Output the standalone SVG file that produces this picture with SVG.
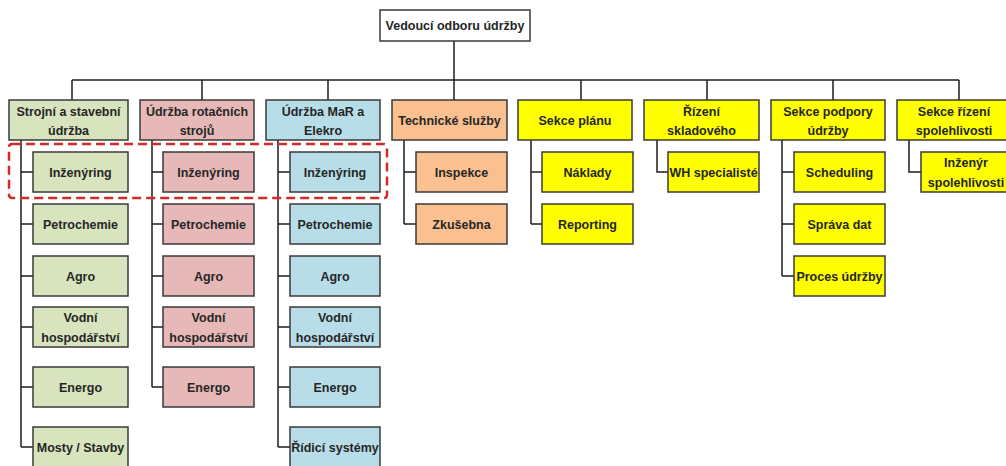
<svg xmlns="http://www.w3.org/2000/svg" width="1006" height="466" viewBox="0 0 1006 466">
  <style>
    .box { stroke: #3a3a3a; stroke-width: 1.5; }
    .white { fill: #ffffff; }
    .green { fill: #d7e4bd; }
    .pink { fill: #e6b9b8; }
    .blue { fill: #b7dee8; }
    .orange { fill: #fac090; }
    .yellow { fill: #ffff00; }
    text { font-family: "Liberation Sans", Arial, sans-serif; font-weight: bold; font-size: 12.5px; fill: #262626; text-anchor: middle; }
    .wire { stroke: #1e1e1e; stroke-width: 1.5; fill: none; }
    .focus { fill: none; stroke: #d42a2a; stroke-width: 2.5; stroke-dasharray: 9 5; }
  </style>
  <rect width="1006" height="466" fill="#ffffff"/>

  <!-- connectors -->
  <g id="connectors" class="wire">
    <!-- head to bus -->
    <path d="M454 41V80"/>
    <path d="M72 80H959"/>
    <path d="M72 80V100M202 80V100M328 80V100M454 80V100M581 80V100M707 80V100M833 80V100M959 80V100"/>
    <!-- column 1 -->
    <path d="M21 140V447M21 172H33M21 224H33M21 276H33M21 327H33M21 387H33M21 447H33"/>
    <!-- column 2 -->
    <path d="M152 140V387M152 172H163M152 224H163M152 276H163M152 327H163M152 387H163"/>
    <!-- column 3 -->
    <path d="M278 140V447M278 172H290M278 224H290M278 276H290M278 327H290M278 387H290M278 447H290"/>
    <!-- column 4 -->
    <path d="M404 140V224M404 172H416M404 224H416"/>
    <!-- column 5 -->
    <path d="M531 140V224M531 172H542M531 224H542"/>
    <!-- column 6 -->
    <path d="M657 140V172H668"/>
    <!-- column 7 -->
    <path d="M782 140V276M782 172H794M782 224H794M782 276H794"/>
    <!-- column 8 -->
    <path d="M909 140V172H921"/>
  </g>

  <!-- head -->
  <g id="head">
    <rect class="box white" x="380" y="10" width="150" height="31"/>
    <text x="455" y="30">Vedoucí odboru údržby</text>
  </g>

  <!-- column 1: green -->
  <g id="strojni">
    <rect class="box green" x="9" y="100" width="119" height="40"/>
    <text x="68.5" y="115.5">Strojní a stavební</text>
    <text x="68.5" y="135">údržba</text>
  </g>
  <g id="strojni-inzenyring"><rect class="box green" x="33" y="152" width="95" height="40"/><text x="80.5" y="176.5">Inženýring</text></g>
  <g id="strojni-petrochemie"><rect class="box green" x="33" y="204" width="95" height="40"/><text x="80.5" y="228.5">Petrochemie</text></g>
  <g id="strojni-agro"><rect class="box green" x="33" y="256" width="95" height="40"/><text x="80.5" y="280.5">Agro</text></g>
  <g id="strojni-vodni"><rect class="box green" x="33" y="307" width="95" height="40"/><text x="80.5" y="322">Vodní</text><text x="80.5" y="342">hospodářství</text></g>
  <g id="strojni-energo"><rect class="box green" x="33" y="367" width="95" height="40"/><text x="80.5" y="391.5">Energo</text></g>
  <g id="strojni-mosty"><rect class="box green" x="33" y="427" width="95" height="42"/><text x="80.5" y="451.5">Mosty / Stavby</text></g>

  <!-- column 2: pink -->
  <g id="rotacni">
    <rect class="box pink" x="140" y="100" width="114" height="40"/>
    <text x="197" y="115.5">Údržba rotačních</text>
    <text x="197" y="135">strojů</text>
  </g>
  <g id="rotacni-inzenyring"><rect class="box pink" x="163" y="152" width="91" height="40"/><text x="208.5" y="176.5">Inženýring</text></g>
  <g id="rotacni-petrochemie"><rect class="box pink" x="163" y="204" width="91" height="40"/><text x="208.5" y="228.5">Petrochemie</text></g>
  <g id="rotacni-agro"><rect class="box pink" x="163" y="256" width="91" height="40"/><text x="208.5" y="280.5">Agro</text></g>
  <g id="rotacni-vodni"><rect class="box pink" x="163" y="307" width="91" height="40"/><text x="208.5" y="322">Vodní</text><text x="208.5" y="342">hospodářství</text></g>
  <g id="rotacni-energo"><rect class="box pink" x="163" y="367" width="91" height="40"/><text x="208.5" y="391.5">Energo</text></g>

  <!-- column 3: blue -->
  <g id="mar">
    <rect class="box blue" x="266" y="100" width="114" height="40"/>
    <text x="323" y="115.5">Údržba MaR a</text>
    <text x="323" y="135">Elekro</text>
  </g>
  <g id="mar-inzenyring"><rect class="box blue" x="290" y="152" width="90" height="40"/><text x="335" y="176.5">Inženýring</text></g>
  <g id="mar-petrochemie"><rect class="box blue" x="290" y="204" width="90" height="40"/><text x="335" y="228.5">Petrochemie</text></g>
  <g id="mar-agro"><rect class="box blue" x="290" y="256" width="90" height="40"/><text x="335" y="280.5">Agro</text></g>
  <g id="mar-vodni"><rect class="box blue" x="290" y="307" width="90" height="40"/><text x="335" y="322">Vodní</text><text x="335" y="342">hospodářství</text></g>
  <g id="mar-energo"><rect class="box blue" x="290" y="367" width="90" height="40"/><text x="335" y="391.5">Energo</text></g>
  <g id="mar-ridici"><rect class="box blue" x="290" y="427" width="90" height="42"/><text x="335" y="451.5">Řídicí systémy</text></g>

  <!-- column 4: orange -->
  <g id="technicke">
    <rect class="box orange" x="392" y="100" width="115" height="40"/>
    <text x="449.5" y="124.5">Technické služby</text>
  </g>
  <g id="inspekce"><rect class="box orange" x="416" y="152" width="91" height="40"/><text x="461.5" y="176.5">Inspekce</text></g>
  <g id="zkusebna"><rect class="box orange" x="416" y="204" width="91" height="40"/><text x="461.5" y="228.5">Zkušebna</text></g>

  <!-- column 5: yellow -->
  <g id="planu">
    <rect class="box yellow" x="518" y="100" width="114" height="40"/>
    <text x="575" y="124.5">Sekce plánu</text>
  </g>
  <g id="naklady"><rect class="box yellow" x="542" y="152" width="91" height="40"/><text x="587.5" y="176.5">Náklady</text></g>
  <g id="reporting"><rect class="box yellow" x="542" y="204" width="91" height="40"/><text x="587.5" y="228.5">Reporting</text></g>

  <!-- column 6 -->
  <g id="sklad">
    <rect class="box yellow" x="644" y="100" width="115" height="40"/>
    <text x="701.5" y="115.5">Řízení</text>
    <text x="701.5" y="135">skladového</text>
  </g>
  <g id="wh"><rect class="box yellow" x="668" y="152" width="91" height="40"/><text x="713.5" y="176.5">WH specialisté</text></g>

  <!-- column 7 -->
  <g id="podpora">
    <rect class="box yellow" x="771" y="100" width="114" height="40"/>
    <text x="828" y="115.5">Sekce podpory</text>
    <text x="828" y="135">údržby</text>
  </g>
  <g id="scheduling"><rect class="box yellow" x="794" y="152" width="91" height="40"/><text x="839.5" y="176.5">Scheduling</text></g>
  <g id="sprava"><rect class="box yellow" x="794" y="204" width="91" height="40"/><text x="839.5" y="228.5">Správa dat</text></g>
  <g id="proces"><rect class="box yellow" x="794" y="256" width="91" height="40"/><text x="839.5" y="280.5">Proces údržby</text></g>

  <!-- column 8 -->
  <g id="spolehlivost">
    <rect class="box yellow" x="897" y="100" width="114" height="40"/>
    <text x="954" y="115.5">Sekce řízení</text>
    <text x="954" y="135">spolehlivosti</text>
  </g>
  <g id="inzenyr"><rect class="box yellow" x="921" y="152" width="91" height="40"/><text x="966" y="167">Inženýr</text><text x="966" y="186.5">spolehlivosti</text></g>

  <!-- engineering row highlight -->
  <rect class="focus" x="9" y="144" width="378" height="54" rx="3"/>
</svg>
